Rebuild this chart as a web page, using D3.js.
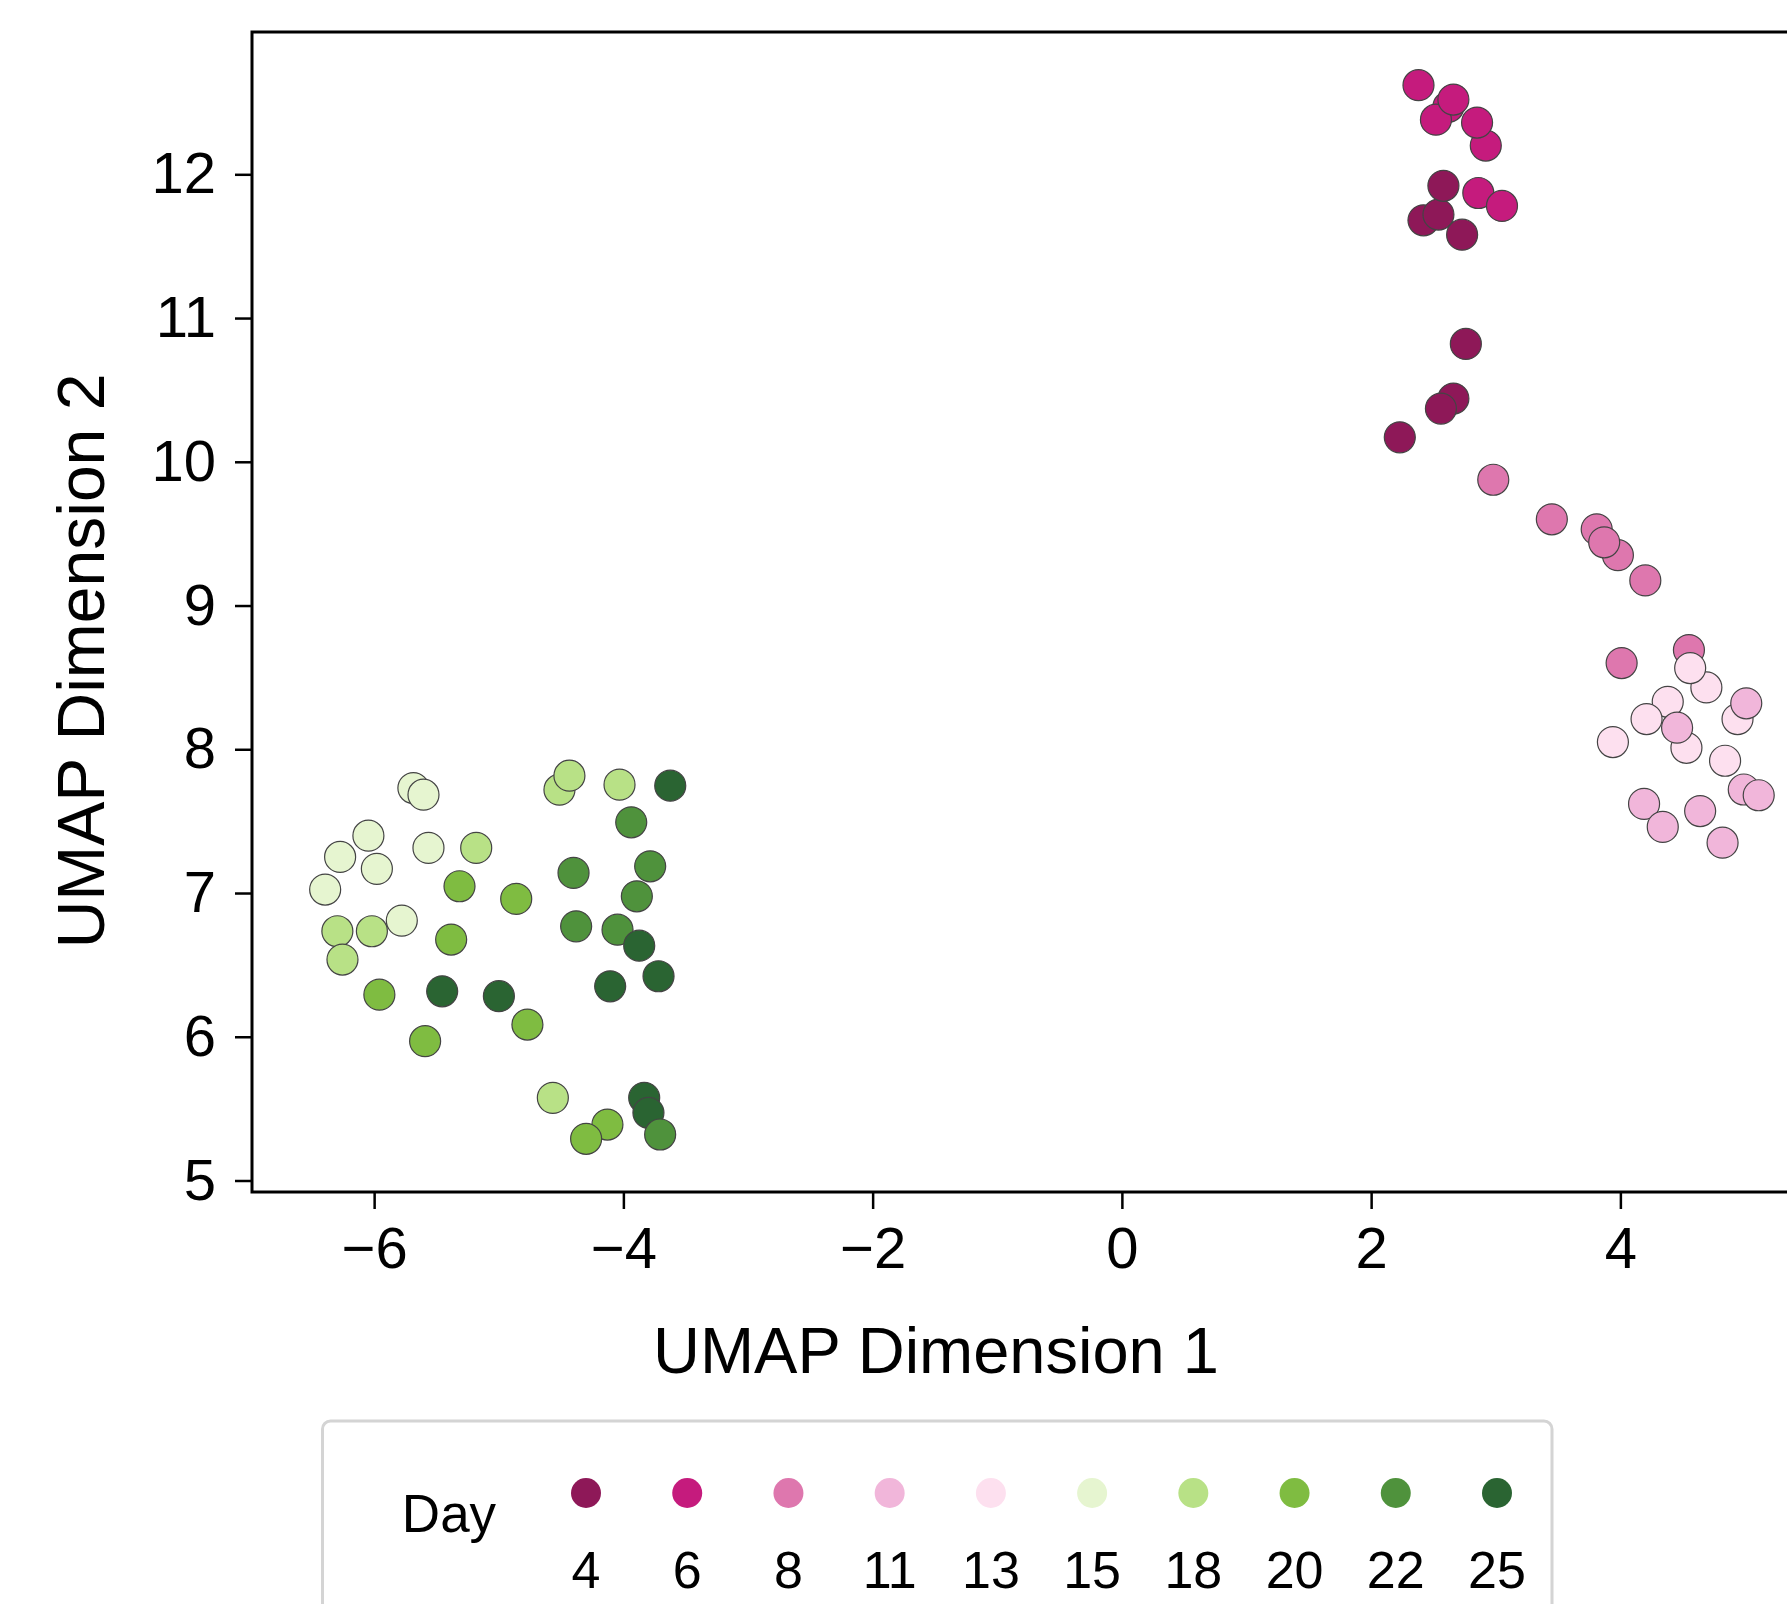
<!DOCTYPE html>
<html>
<head>
<meta charset="utf-8">
<script src="https://cdn.jsdelivr.net/npm/d3@7"></script>
<style>
  html, body { margin: 0; padding: 0; background: #fff; }
  svg { display: block; font-family: "Liberation Sans", Arial, Helvetica, sans-serif; }
</style>
</head>
<body>
<svg id="chart" width="1787" height="1604"></svg>
<script>
// Sampling days (legend categories)
const days = [4, 6, 8, 11, 13, 15, 18, 20, 22, 25];

// Diverging pink–green palette, one colour per day
const dayColors = ["#8e1858", "#c51b7d", "#de77ae", "#f1b6da", "#fde0ef",
                   "#e6f5d0", "#b8e186", "#7fbc41", "#4f923c", "#2a6432"];

// Axis ticks
const xTicks = [-6, -4, -2, 0, 2, 4];
const yTicks = [5, 6, 7, 8, 9, 10, 11, 12];

// UMAP embedding: [day, dim1, dim2], in plotting order
const samples = [
  // early days
  [6, 2.62, 12.47], [6, 2.38, 12.62], [6, 2.52, 12.38], [6, 2.66, 12.52],
  [6, 2.92, 12.20], [6, 2.85, 12.36], [6, 2.86, 11.87], [6, 3.05, 11.78],
  [4, 2.42, 11.68], [4, 2.54, 11.72], [4, 2.58, 11.92], [4, 2.73, 11.58],
  [4, 2.76, 10.82], [4, 2.66, 10.44], [4, 2.56, 10.37], [4, 2.23, 10.17],
  [8, 2.98, 9.875], [8, 3.45, 9.60], [8, 3.81, 9.53], [8, 3.98, 9.35],
  [8, 3.87, 9.44], [8, 4.20, 9.175], [8, 4.01, 8.60], [8, 4.55, 8.69],
  [13, 4.69, 8.43], [13, 4.56, 8.565], [13, 4.38, 8.33], [13, 4.21, 8.21],
  [13, 4.94, 8.21], [13, 3.94, 8.05], [13, 4.53, 8.01], [13, 4.84, 7.92],
  [11, 5.01, 8.32], [11, 4.455, 8.15], [11, 4.99, 7.72], [11, 5.11, 7.68],
  [11, 4.19, 7.62], [11, 4.34, 7.46], [11, 4.64, 7.57], [11, 4.82, 7.35],
  // late days
  [15, -5.685, 7.73], [15, -5.604, 7.684], [15, -6.046, 7.399], [15, -6.273, 7.251],
  [15, -5.978, 7.168], [15, -5.564, 7.314], [15, -6.393, 7.024], [15, -5.778, 6.808],
  [18, -4.513, 7.719], [18, -4.433, 7.816], [18, -4.031, 7.754], [18, -5.181, 7.314],
  [18, -6.295, 6.734], [18, -6.018, 6.734], [18, -6.254, 6.537], [18, -4.566, 5.575],
  [20, -5.315, 7.047], [20, -4.860, 6.959], [20, -5.382, 6.676], [20, -5.958, 6.293],
  [20, -4.770, 6.085], [20, -5.591, 5.969], [20, -4.128, 5.389], [20, -4.299, 5.290],
  [22, -3.937, 7.492], [22, -4.400, 7.140], [22, -3.785, 7.186], [22, -3.892, 6.977],
  [22, -4.379, 6.768], [22, -4.047, 6.745],
  [25, -3.624, 7.747], [25, -3.873, 6.634], [25, -3.718, 6.421], [25, -4.106, 6.351],
  [25, -5.454, 6.316], [25, -4.999, 6.282], [25, -3.833, 5.575], [25, -3.799, 5.471],
  [22, -3.705, 5.320]
];

const svg = d3.select("#chart");

// Plot frame (the right edge runs past the page)
const frame = { left: 252, top: 32, right: 1831, bottom: 1192 };

const x = d3.scaleLinear().domain([-6.98, 5.69]).range([frame.left, frame.right]);
const y = d3.scaleLinear().domain([4.92, 12.99]).range([frame.bottom, frame.top]);
const color = d3.scaleOrdinal(days, dayColors);

// Points
svg.append("g")
  .selectAll("circle")
  .data(samples)
  .join("circle")
  .attr("cx", d => x(d[1]))
  .attr("cy", d => y(d[2]))
  .attr("r", 15.5)
  .attr("fill", d => color(d[0]))
  .attr("stroke", "#444")
  .attr("stroke-width", 1.2);

// Frame
svg.append("rect")
  .attr("x", frame.left).attr("y", frame.top)
  .attr("width", frame.right - frame.left)
  .attr("height", frame.bottom - frame.top)
  .attr("fill", "none")
  .attr("stroke", "#000")
  .attr("stroke-width", 3);

// Axes
const xAxis = svg.append("g")
  .attr("transform", `translate(0,${frame.bottom})`)
  .call(d3.axisBottom(x).tickValues(xTicks).tickSize(17).tickPadding(18));
const yAxis = svg.append("g")
  .attr("transform", `translate(${frame.left},0)`)
  .call(d3.axisLeft(y).tickValues(yTicks).tickSize(17).tickPadding(19));

[xAxis, yAxis].forEach(g => {
  g.select(".domain").remove();
  g.selectAll(".tick line").attr("stroke", "#000").attr("stroke-width", 2.5);
  g.selectAll(".tick text")
    .attr("fill", "#000")
    .style("font-size", "58px")
    .style("font-family", "'Liberation Sans', Arial, sans-serif");
});

// Axis titles
svg.append("text")
  .attr("x", 936).attr("y", 1373)
  .attr("text-anchor", "middle")
  .style("font-size", "65px")
  .text("UMAP Dimension 1");

svg.append("text")
  .attr("transform", "translate(104,661) rotate(-90)")
  .attr("text-anchor", "middle")
  .style("font-size", "66px")
  .text("UMAP Dimension 2");

// Legend
const legend = svg.append("g");
legend.append("rect")
  .attr("x", 322.5).attr("y", 1421)
  .attr("width", 1229.5).attr("height", 260)
  .attr("rx", 8)
  .attr("fill", "#fff")
  .attr("stroke", "#d4d4d4")
  .attr("stroke-width", 3);

legend.append("text")
  .attr("x", 449).attr("y", 1532)
  .attr("text-anchor", "middle")
  .style("font-size", "53px")
  .text("Day");

const lx = d3.scalePoint().domain(days).range([586, 1497]);
const items = legend.selectAll("g.item")
  .data(days)
  .join("g")
  .attr("class", "item")
  .attr("transform", d => `translate(${lx(d)},0)`);

items.append("circle")
  .attr("cy", 1493)
  .attr("r", 15)
  .attr("fill", d => color(d));

items.append("text")
  .attr("y", 1588)
  .attr("text-anchor", "middle")
  .style("font-size", "52px")
  .text(d => d);
</script>
</body>
</html>
